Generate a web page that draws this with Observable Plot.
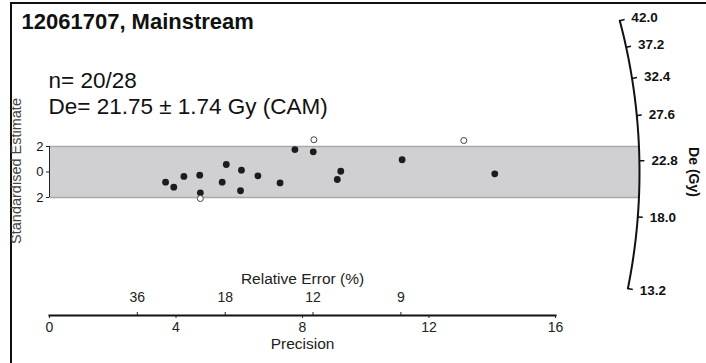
<!DOCTYPE html>
<html><head><meta charset="utf-8">
<script src="https://cdn.jsdelivr.net/npm/d3@7"></script>
<script src="https://cdn.jsdelivr.net/npm/@observablehq/plot@0.6"></script>
<style>
body{margin:0;background:#fff;}
#wrap{position:relative;width:706px;height:363px;overflow:hidden;}
#border{position:absolute;left:10px;top:2px;width:710px;height:370px;border-left:2px solid #111;border-top:2px solid #111;}
#wrap svg{position:absolute;left:0;top:0;}
</style></head><body><div id="wrap"><div id="border"></div></div>
<script>
// ---- data ----
const titleText = "12061707, Mainstream";
const statsLines = ["n= 20/28", "De= 21.75 ± 1.74 Gy (CAM)"];
const centralDe = 21.75;
const precision   = [3.67, 3.93, 4.25, 4.75, 4.77, 5.46, 5.59, 6.07, 6.04, 6.59, 7.29, 7.76, 8.34, 9.10, 9.21, 11.15, 14.08];
const stdEstimate = [-0.80, -1.19, -0.35, -0.25, -1.63, -0.80, 0.59, 0.14, -1.47, -0.30, -0.86, 1.76, 1.58, -0.59, 0.06, 0.96, -0.14];
const outPrecision   = [8.36, 4.77, 13.10];
const outStdEstimate = [2.53, -2.08, 2.47];
const precisionTicks = [0, 4, 8, 12, 16];
const relErrTicks = [36, 18, 12, 9];
const yTicks = [-2, 0, 2];
const deTicks = [13.2, 18.0, 22.8, 27.6, 32.4, 37.2, 42.0];
const bandLimit = 2;

// ---- layout ----
const W = 706, H = 363;
const xDomain = [0, 16], xRange = [49, 555];
const yDomain = [-2, 2], yRange = [197, 146];
const kx = (xRange[1] - xRange[0]) / (xDomain[1] - xDomain[0]);
const ky = (yRange[0] - yRange[1]) / (yDomain[1] - yDomain[0]);
const arcR = 590; // px
const font = "'Liberation Sans', Arial, Helvetica, sans-serif";

function arcPoint(s, r) {
  const th = Math.atan(ky * s / kx);
  return {x: r * Math.cos(th) / kx, y: r * Math.sin(th) / ky};
}
const z0 = Math.log(centralDe);
const sMin = Math.log(d3.min(deTicks)) - z0, sMax = Math.log(d3.max(deTicks)) - z0;
const arcPts = d3.range(0, 101).map(i => arcPoint(sMin + (sMax - sMin) * i / 100, arcR));
const tickRows = deTicks.map(v => {
  const s = Math.log(v) - z0;
  const a = arcPoint(s, arcR), b = arcPoint(s, arcR + 5), c = arcPoint(s, arcR + 12);
  return {v, x1: a.x, y1: a.y, x2: b.x, y2: b.y, lx: c.x, ly: c.y};
});
const bandEnd = arcPoint(0, arcR).x;

const pts = precision.map((p, i) => ({p, z: stdEstimate[i]}));
const outs = outPrecision.map((p, i) => ({p, z: outStdEstimate[i]}));

const chart = Plot.plot({
  width: W, height: H,
  marginLeft: xRange[0], marginRight: W - xRange[1], marginTop: 0, marginBottom: H - 315,
  x: {domain: xDomain},
  y: {domain: yDomain, range: yRange},
  style: {fontFamily: font, background: "transparent", overflow: "visible", color: "#111"},
  marks: [
    Plot.rect([0], {x1: 0, x2: bandEnd, y1: -bandLimit, y2: bandLimit, fill: "#d0d0d2"}),
    Plot.ruleY([-bandLimit, bandLimit], {x1: 0, x2: bandEnd, stroke: "#a9a9ab", strokeWidth: 1.5}),
    Plot.ruleX([0], {y1: -bandLimit, y2: bandLimit, stroke: "#222", strokeWidth: 1}),
    Plot.axisY({ticks: yTicks, tickSize: 3, tickPadding: 3, tickFormat: d => String(Math.abs(d)), fontSize: 13, label: null, stroke: "#222"}),
    Plot.text(["Standardised Estimate"], {frameAnchor: "left", textAnchor: "middle", rotate: -90, dx: -33, dy: 13, fontSize: 14.5, fill: "#444"}),
    // precision axis
    Plot.frame({anchor: "bottom", strokeWidth: 2.2, stroke: "#111"}),
    Plot.axisX({ticks: precisionTicks, tickSize: 3, tickPadding: 4, fontSize: 14, label: null, stroke: "#222", fill: "#222"}),
    Plot.text(["Precision"], {frameAnchor: "bottom", dy: 33, fontSize: 15.5, fill: "#222"}),
    // relative error
    Plot.tickX(relErrTicks, {x: d => 100 / d, insetTop: 312, stroke: "#222"}),
    Plot.text(relErrTicks, {x: d => 100 / d, text: d => String(d), frameAnchor: "bottom", dy: -14, fontSize: 14, fill: "#222"}),
    Plot.text(["Relative Error (%)"], {frameAnchor: "bottom", dy: -32, fontSize: 15.5, fill: "#222"}),
    // radial axis
    Plot.line(arcPts, {x: "x", y: "y", stroke: "#111", strokeWidth: 2, curve: "linear"}),
    Plot.link(tickRows, {x1: "x1", y1: "y1", x2: "x2", y2: "y2", stroke: "#111", strokeWidth: 1.5}),
    Plot.text(tickRows, {x: "lx", y: "ly", text: d => d.v.toFixed(1), textAnchor: "start", fontWeight: "bold", fontSize: 13.5, fill: "#111"}),
    Plot.text(["De (Gy)"], {frameAnchor: "right", textAnchor: "middle", rotate: 90, dx: 138, dy: 14, fontWeight: "bold", fontSize: 14, fill: "#111"}),
    // points
    Plot.dot(pts, {x: "p", y: "z", r: 3.4, fill: "#1c1c1c", stroke: "none"}),
    Plot.dot(outs, {x: "p", y: "z", r: 3, fill: "white", stroke: "#444", strokeWidth: 1}),
    // titles
    Plot.text([titleText], {frameAnchor: "top-left", dx: -28, dy: 13, lineAnchor: "top", textAnchor: "start", fontWeight: "bold", fontSize: 22, fill: "#111"}),
    Plot.text([statsLines[0]], {frameAnchor: "top-left", dx: -1, dy: 87, lineAnchor: "bottom", textAnchor: "start", fontSize: 22.5, fill: "#111"}),
    Plot.text([statsLines[1]], {frameAnchor: "top-left", dx: -1, dy: 113, lineAnchor: "bottom", textAnchor: "start", fontSize: 22.5, fill: "#111"})
  ]
});
document.getElementById("wrap").appendChild(chart);
</script></body></html>
